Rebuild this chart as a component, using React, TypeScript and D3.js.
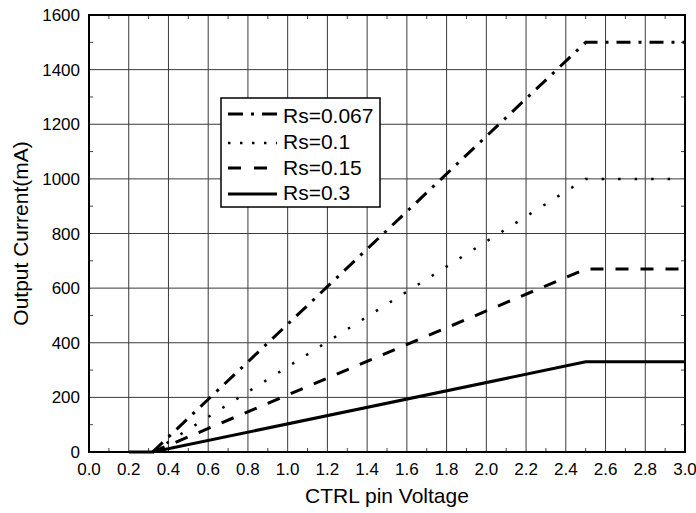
import React from "react";
import * as d3 from "d3";

const xTicks = [0, 0.2, 0.4, 0.6, 0.8, 1.0, 1.2, 1.4, 1.6, 1.8, 2.0, 2.2, 2.4, 2.6, 2.8, 3.0];
const yTicks = [0, 200, 400, 600, 800, 1000, 1200, 1400, 1600];
const xMinor = [0.1, 0.3, 0.5, 0.7, 0.9, 1.1, 1.3, 1.5, 1.7, 1.9, 2.1, 2.3, 2.5, 2.7, 2.9];
const yMinor = [100, 300, 500, 700, 900, 1100, 1300, 1500];

const seriesNames = ["Rs=0.067", "Rs=0.1", "Rs=0.15", "Rs=0.3"];
const xs067 = [0.32, 2.5, 3.0];
const ys067 = [0, 1500, 1500];
const xs01 = [0.32, 2.5, 3.0];
const ys01 = [0, 1000, 1000];
const xs015 = [0.32, 2.5, 3.0];
const ys015 = [0, 670, 670];
const xs03 = [0.2, 0.32, 2.5, 3.0];
const ys03 = [0, 0, 330, 330];

const styles = [
  { dash: "14 8 3 8", width: 3, cap: "butt" },
  { dash: "2.5 14", width: 2.5, cap: "butt" },
  { dash: "13 12", width: 3, cap: "butt" },
  { dash: "none", width: 3, cap: "butt" },
];
const legendDash = ["15 8 3 8", "2.5 9.5", "13 13", "none"];

export default function App() {
  const W = 696, H = 513;
  const L = 89, R = 685, T = 15, B = 452;
  const x = d3.scaleLinear().domain([0, 3]).range([L, R]);
  const y = d3.scaleLinear().domain([0, 1600]).range([B, T]);
  const line = d3.line<[number, number]>().x((d) => x(d[0])).y((d) => y(d[1]));
  const data: [number, number][][] = [
    xs067.map((v, i) => [v, ys067[i]]),
    xs01.map((v, i) => [v, ys01[i]]),
    xs015.map((v, i) => [v, ys015[i]]),
    xs03.map((v, i) => [v, ys03[i]]),
  ];
  const font = "Liberation Sans, Arial, sans-serif";
  const legRows = [114, 143, 168, 194];
  const legText = [123, 149, 175, 200];
  return (
    <svg width={W} height={H} style={{ position: "absolute", left: 0, top: 0 }} fontFamily={font}>
      <rect width={W} height={H} fill="#fff" />
      <defs>
        <clipPath id="plot">
          <rect x={L} y={T - 2} width={R - L} height={B - T + 4} />
        </clipPath>
      </defs>
      {xTicks.map((t) => (
        <line key={"gx" + t} x1={x(t)} x2={x(t)} y1={T} y2={B} stroke="#3a3a3a" strokeWidth={1} />
      ))}
      {yTicks.map((t) => (
        <line key={"gy" + t} x1={L} x2={R} y1={y(t)} y2={y(t)} stroke="#3a3a3a" strokeWidth={1} />
      ))}
      {xMinor.map((t) => (
        <g key={"mx" + t}>
          <line x1={x(t)} x2={x(t)} y1={B} y2={B - 4} stroke="#444" />
          <line x1={x(t)} x2={x(t)} y1={T} y2={T + 4} stroke="#444" />
        </g>
      ))}
      {yMinor.map((t) => (
        <g key={"my" + t}>
          <line x1={L} x2={L + 4} y1={y(t)} y2={y(t)} stroke="#444" />
          <line x1={R} x2={R - 4} y1={y(t)} y2={y(t)} stroke="#444" />
        </g>
      ))}
      <g clipPath="url(#plot)">
        {data.map((d, i) => (
          <path
            key={"s" + i}
            d={line(d) || ""}
            fill="none"
            stroke="#000"
            strokeWidth={styles[i].width}
            strokeDasharray={styles[i].dash}
            strokeLinecap={styles[i].cap as any}
          />
        ))}
      </g>
      <rect x={L} y={T} width={R - L} height={B - T} fill="none" stroke="#000" strokeWidth={2} />
      {xTicks.map((t) => (
        <text key={"tx" + t} x={x(t)} y={475} textAnchor="middle" fontSize={17} fill="#000">
          {t.toFixed(1)}
        </text>
      ))}
      {yTicks.map((t) => (
        <text key={"ty" + t} x={80} y={y(t) + 6} textAnchor="end" fontSize={17} fill="#000">
          {t}
        </text>
      ))}
      <text x={(L + R) / 2} y={503} textAnchor="middle" fontSize={21} fill="#000">
        CTRL pin Voltage
      </text>
      <text
        transform={`translate(28, ${(T + B) / 2}) rotate(-90)`}
        textAnchor="middle"
        fontSize={21}
        fill="#000"
      >
        Output Current(mA)
      </text>
      <rect x={221} y={98} width={159} height={109} fill="#fff" stroke="#000" strokeWidth={1.5} />
      {seriesNames.map((n, i) => (
        <g key={"lg" + i}>
          <line
            x1={228}
            x2={277}
            y1={legRows[i]}
            y2={legRows[i]}
            stroke="#000"
            strokeWidth={styles[i].width}
            strokeDasharray={legendDash[i]}
          />
          <text x={283} y={legText[i]} fontSize={21} fill="#000">
            {n}
          </text>
        </g>
      ))}
    </svg>
  );
}
